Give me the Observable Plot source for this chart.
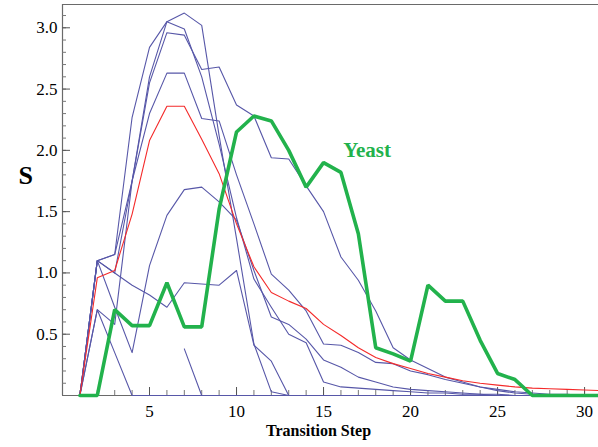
<!DOCTYPE html>
<html>
<head>
<meta charset="utf-8">
<script src="https://cdn.jsdelivr.net/npm/d3@7"></script>
<script src="https://cdn.jsdelivr.net/npm/@observablehq/plot@0.6"></script>
<style>
  html, body { margin: 0; padding: 0; background: #fff; }
  svg text { font-family: 'Liberation Serif', 'DejaVu Serif', serif !important; }
</style>
</head>
<body>
<div id="chart"></div>
<script>
// Transition steps 1..31
const steps = d3.range(1, 32);

// Blue random-network curves (null = not defined)
const blue1 = [0,1.1,1.15,2.27,2.84,3.05,3.12,3.02,2.12,1.28,0.42,0.03,0,0,0,0,0,0,0,0,0,0,0,0,0,0,0,0,0,0,0];
const blue2 = [0,1.1,1.15,1.75,2.6,3.05,2.99,2.6,2.05,1.45,0.95,0.72,0.5,0.43,0.11,0.07,0.06,0.05,0.04,0.03,0.02,0.02,0.01,0.01,0,0,0,0,0,0,0];
const blue3 = [0,1.1,1.0,1.75,2.3,2.63,2.63,2.26,2.24,1.8,1.4,0.99,0.86,0.69,0.42,0.41,0.35,0.27,0.26,0.2,0.17,0.13,0.1,0.07,0.05,0.03,0.02,0.01,0.01,0,0];
const blue4 = [0,0.7,0.58,1.75,2.55,2.96,2.94,2.66,2.68,2.37,2.28,1.94,1.93,1.71,1.5,1.13,0.94,0.69,0.39,0.29,0.22,0.15,0.11,0.07,0.04,0.02,0.01,0,0,0,0];
const blue5 = [0,1.1,0.72,0.35,1.06,1.47,1.68,1.7,1.58,1.43,1.02,0.64,0.58,0.46,0.29,0.23,0.15,0.11,0.07,0.05,0.04,0.03,0.02,0.01,0.01,0,0,0,0,0,0];
const blue6 = [0,1.1,1.0,0.9,0.82,0.72,0.92,0.91,0.9,1.02,0.41,0.28,0,0,0,0,0,0,0,0,0,0,0,0,0,0,0,0,0,0,0];
const blue7 = [0,0.7,0.35,0,0,0,0,0,0,0,0,0,0,0,0,0,0,0,0,0,0,0,0,0,0,0,0,0,0,0,0];
const blue8 = [null,null,null,null,null,null,0.38,0,0,0,0,0,0,0,0,0,0,0,0,0,0,0,0,0,0,0,0,0,0,0,0];

// Red average curve
const average = [0,0.96,1.02,1.48,2.08,2.36,2.36,2.09,1.81,1.4,1.05,0.84,0.77,0.71,0.58,0.49,0.39,0.31,0.26,0.22,0.18,0.15,0.12,0.1,0.085,0.07,0.06,0.055,0.05,0.045,0.04];

// Green yeast curve
const yeast = [0,0,0.7,0.57,0.57,0.92,0.56,0.56,1.52,2.15,2.28,2.24,2.0,1.7,1.9,1.82,1.32,0.39,0.34,0.28,0.9,0.77,0.77,0.45,0.18,0.13,0,0,0,0,0];

// Ticks and labels
const yMajorTicks = [0.5, 1.0, 1.5, 2.0, 2.5, 3.0];
const yMinorTicks = d3.range(1, 32).map(i => i / 10);
const xMajorTicks = [5, 10, 15, 20, 25, 30];
const xMinorTicks = d3.range(1, 31);
const xDomain = [0, 30.8];
const yDomain = [0, 3.19];
const yeastLabel = {step: 17.5, value: 2.0, text: "Yeast"};

const toRows = arr => steps.map((s, i) => ({step: s, value: arr[i]}));
const blueSeries = [blue1, blue2, blue3, blue4, blue5, blue6, blue7, blue8];

const BLUE = "#5757a8";
const RED = "#f42a2a";
const GREEN = "#22b24c";
const FRAME = "#6a6a6a";
const SERIF = "'Liberation Serif', 'DejaVu Serif', serif";

const chart = Plot.plot({
  width: 598,
  height: 447,
  marginLeft: 62,
  marginTop: 4,
  marginBottom: 52,
  marginRight: 0,
  style: {fontFamily: SERIF, fontSize: "17px", background: "#fff", color: "#000"},
  x: {domain: xDomain, axis: null},
  y: {domain: yDomain, axis: null},
  marks: [
    Plot.ruleX([xDomain[0]], {stroke: FRAME, strokeWidth: 1.2}),
    Plot.ruleY([yDomain[1]], {stroke: FRAME, strokeWidth: 1.2}),
    Plot.ruleY([0], {stroke: FRAME, strokeWidth: 1.2}),
    Plot.axisY({ticks: yMinorTicks, tickSize: -4, tickFormat: () => "", stroke: "#777", label: null}),
    Plot.axisY({ticks: yMajorTicks, tickSize: -8, tickPadding: 13, stroke: "#555", tickFormat: d3.format(".1f"), fontSize: 17, fontFamily: SERIF, label: null}),
    Plot.axisX({ticks: xMinorTicks, tickSize: -5, tickFormat: () => "", stroke: "#777", label: null}),
    Plot.axisX({ticks: xMajorTicks, tickSize: -8, tickPadding: 17, stroke: "#555", tickFormat: d => String(d), fontSize: 17, fontFamily: SERIF, label: null}),
    ...blueSeries.map(arr => Plot.line(toRows(arr), {x: "step", y: "value", stroke: BLUE, strokeWidth: 1.1})),
    Plot.line(toRows(average), {x: "step", y: "value", stroke: RED, strokeWidth: 1.1}),
    Plot.line(toRows(yeast), {x: "step", y: "value", stroke: GREEN, strokeWidth: 3.6, strokeLinejoin: "miter"}),
    Plot.text([yeastLabel], {x: "step", y: "value", text: "text", fill: GREEN, fontWeight: "bold", fontSize: 21}),
    Plot.text(["S"], {frameAnchor: "left", dx: -44, dy: -24, fontWeight: "bold", fontSize: 26}),
    Plot.text(["Transition Step"], {frameAnchor: "bottom", dx: -12, dy: 40, fontWeight: "bold", fontSize: 16})
  ]
});
document.getElementById("chart").appendChild(chart);
</script>
</body>
</html>
